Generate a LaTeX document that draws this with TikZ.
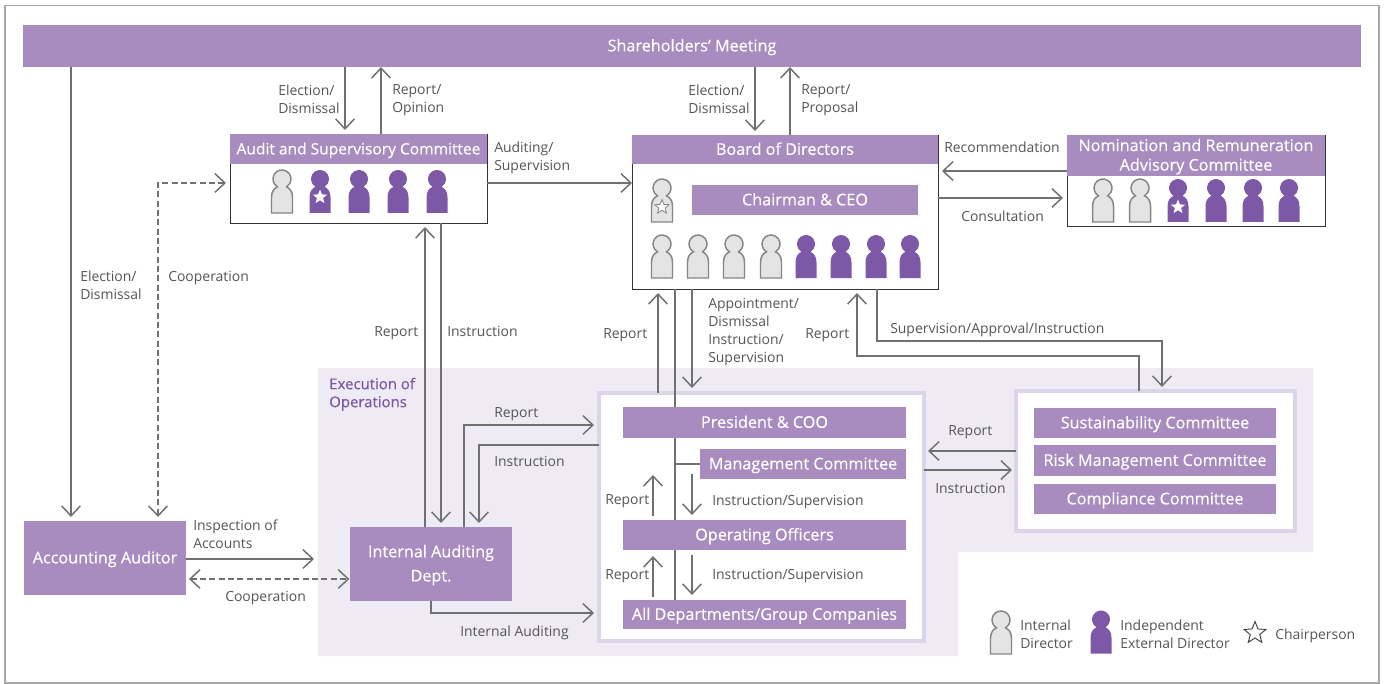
\documentclass[tikz,border=0pt]{standalone}
\usepackage{fontspec}
\setmainfont{Open Sans}
\newfontfamily\semif[FakeBold=0.35]{Open Sans}
\usetikzlibrary{arrows.meta,shapes.geometric,calc}
\definecolor{hdr}{HTML}{A88CC0}
\definecolor{dark}{HTML}{7D58A6}
\definecolor{pale}{HTML}{EEEBF4}
\definecolor{rim}{HTML}{DCD5E9}
\definecolor{ln}{HTML}{707070}
\definecolor{tx}{HTML}{555555}
\definecolor{gry}{HTML}{E4E4E4}
\definecolor{gryl}{HTML}{858585}
\renewcommand{\arraystretch}{1.125}
\tikzset{
  x=0.75pt,y=-0.75pt,
  barhead/.style={fill=hdr,text=white,inner sep=0pt,outer sep=0pt,font=\semif\fontsize{12.15}{13}\selectfont},
  narrowhead/.style={barhead,font=\semif\fontsize{11.65}{13}\selectfont},
  openbox/.style={draw=black!80,line width=0.7pt,fill=white,inner sep=0pt,outer sep=0pt},
  rimbox/.style={draw=rim,line width=3pt,fill=white,inner sep=0pt,outer sep=0pt},
  lbl/.style={text=tx,inner sep=0pt,font=\fontsize{10.45}{13.4}\selectfont,align=left},
  arr/.style={draw=ln,line width=1.1pt,-{Straight Barb[length=7.5pt,width=14pt,line width=1.1pt]}},
  arrb/.style={arr,{Straight Barb[length=7.5pt,width=14pt,line width=1.1pt]}-{Straight Barb[length=7.5pt,width=14pt,line width=1.1pt]}},
  plain/.style={draw=ln,line width=1.1pt},
  dsh/.style={dash pattern=on 4.5pt off 2.5pt},
  gap/.style={shorten >=3pt},
  gapw/.style={shorten >=3.75pt},
  inperson/.style={fill=gry,draw=gryl,line width=1.1pt},
  experson/.style={fill=dark,draw=none},
  staro/.style={star,star points=5,star point ratio=2.3,inner sep=0pt},
}
\newcommand{\bx}[7][barhead]{\node[#1,minimum width={(#5-#3)*0.75pt},minimum height={(#6-#4)*0.75pt},anchor=north west] (#2) at (#3,#4) {\raisebox{-1.1pt}[\height][\depth]{\begin{tabular}{@{}c@{}}#7\end{tabular}}};}
\newcommand{\persona}[3]{\path[#3,shift={(#1,#2)}] (-10.5,43.5) -- (-10.5,28) .. controls (-10.5,22) and (-8,19) .. (-4.5,17.3) arc[start angle=120,end angle=420,radius=9] .. controls (8,19) and (10.5,22) .. (10.5,28) -- (10.5,43.5) -- cycle;}
\begin{document}
\begin{tikzpicture}
\path[use as bounding box,fill=white] (0,0) rectangle (1387,684);
\draw[draw=black!35,line width=0.9pt] (5,5.5) rectangle (1379,683);
% execution background
\fill[pale] (318,368) -- (1313,368) -- (1313,552) -- (958,552) -- (958,656) -- (318,656) -- cycle;
\node[text=dark,inner sep=0pt,anchor=north west,align=left,font=\semif\fontsize{11.2}{13.5}\selectfont] (exec) at (329,377.5) {Execution of\\Operations};
% boxes
\bx{share}{23}{25}{1361}{67}{Shareholders’ Meeting}
\bx[openbox]{audit}{230}{134}{487}{223}{}
\bx[narrowhead]{audith}{230}{134}{487}{164}{Audit and Supervisory Committee}
\bx[openbox]{board}{632}{135}{938}{289}{}
\bx{boardh}{632}{135}{938}{164}{Board of Directors}
\bx{ceo}{692}{185}{918}{215}{Chairman \& CEO}
\bx[openbox]{nom}{1067}{135}{1325}{226}{}
\bx{nomh}{1067}{135}{1325}{176}{Nomination and Remuneration\\Advisory Committee}
\bx{acc}{24}{521}{186}{595}{Accounting Auditor}
\bx{ia}{350}{527}{512}{601}{Internal Auditing\\[3.5pt]Dept.}
\bx[rimbox]{ops}{599}{393}{924}{641}{}
\bx[rimbox]{cmt}{1016}{391}{1295}{531}{}
% lane coordinates
\foreach \n/\v in {a/71,b/158,c/345,d/381,e/425,f/441,g/464,h/479,i/431,j/658,k/675,l/692,m/755,n/790,o/857,p/877,q/1139,r/1162,s/653}{\coordinate (x\n) at (\v,0);}
\foreach \n/\v in {u/183,v/171,w/198,t/425,y/445,z/613,aa/559,ab/579,ac/451,ad/470,ae/356,af/341,ag/464}{\coordinate (y\n) at (0,\v);}
% connectors behind inner bars
\draw[plain] (xk |- board.south) -- (xk |- 0,600);
\draw[plain] (xk |- yag) -- (700,464);
\bx{pres}{623}{407}{906}{438}{President \& COO}
\bx{mgmt}{700}{449}{906}{479}{Management Committee}
\bx{oper}{623}{520}{906}{550}{Operating Officers}
\bx{dept}{623}{600}{906}{629}{All Departments/Group Companies}
\bx{sus}{1034}{408}{1276}{438}{Sustainability Committee}
\bx{risk}{1034}{445}{1276}{476}{Risk Management Committee}
\bx{comp}{1034}{484}{1276}{514}{Compliance Committee}
% arrows
\draw[arr,gap] (xa |- share.south) -- (xa |- acc.north);
\draw[arrb,dsh,gap,shorten <=3pt] (audit.west |- yu) -| (xb |- acc.north);
\draw[arr,gap] (xc |- share.south) -- (xc |- audit.north);
\draw[arr] (xd |- audit.north) -- (xd |- share.south);
\draw[arr,gap] (xm |- share.south) -- (xm |- board.north);
\draw[arr] (xn |- board.north) -- (xn |- share.south);
\draw[arr] (audit.east |- yu) -- (board.west |- yu);
\draw[arr,gap] (nom.west |- yv) -- (board.east |- yv);
\draw[arr,gap] (board.east |- yw) -- (nom.west |- yw);
\draw[arr,gap] (xe |- ia.north) -- (xe |- audit.south);
\draw[arr,gap] (xf |- audit.south) -- (xf |- ia.north);
\draw[arr,gap] (xj |- ops.north) -- (xj |- board.south);
\draw[arr,gapw] (xl |- board.south) -- (xl |- ops.north);
\draw[arr,gap] (xq |- cmt.north) |- (xo |- yae) -- (xo |- board.south);
\draw[arr,gap] (xp |- board.south) |- (xr |- yaf) -- (xr |- cmt.north);
\draw[arr,gapw] (xg |- ia.north) |- (ops.west |- yt);
\draw[arr,gap] (ops.west |- yy) -| (xh |- ia.north);
\draw[arr,gapw] (xi |- ia.south) |- (ops.west |- yz);
\draw[arr] (acc.east |- yaa) -- (314,559);
\draw[arrb,dsh,shorten <=2.2pt,shorten >=0.5pt] (acc.east |- yab) -- (ia.west |- yab);
\draw[arr,gap] (cmt.west |- yac) -- (ops.east |- yac);
\draw[arr,gap] (ops.east |- yad) -- (cmt.west |- yad);
\draw[arr,shorten >=-3pt] (xs |- 0,516) -- (xs |- mgmt.south);
\draw[arr] (xl |- 0,474) -- (xl |- 0,515);
\draw[arr,shorten >=4.5pt] (xs |- 0,597) -- (xs |- oper.south);
\draw[arr] (xl |- oper.south) ++(0,5) -- (xl |- 0,595);
% labels
\node[lbl,anchor=north west] (t1) at (278,84.5) {Election/\\Dismissal};
\node[lbl,anchor=north west] (t2) at (392,84.5) {Report/\\Opinion};
\node[lbl,anchor=north west] (t3) at (688,84.5) {Election/\\Dismissal};
\node[lbl,anchor=north west] (t4) at (801,84.5) {Report/\\Proposal};
\node[lbl,anchor=north west] (t5) at (494,141.5) {Auditing/\\Supervision};
\node[lbl,anchor=north west] (t6) at (944,141.5) {Recommendation};
\node[lbl,anchor=north west] (t7) at (961,210.5) {Consultation};
\node[lbl,anchor=north west] (t8) at (80,270.5) {Election/\\Dismissal};
\node[lbl,anchor=north west] (t9) at (168,271.5) {Cooperation};
\node[lbl,anchor=north west] (t10) at (374,326) {Report};
\node[lbl,anchor=north west] (t11) at (447,326) {Instruction};
\node[lbl,anchor=north west] (t12) at (603,328) {Report};
\node[lbl,anchor=north west] (t13) at (708,298.5) {Appointment/\\Dismissal\\Instruction/\\Supervision};
\node[lbl,anchor=north west] (t14) at (805,328) {Report};
\node[lbl,anchor=north west] (t15) at (890,323) {Supervision/Approval/Instruction};
\node[lbl,anchor=north west] (t16) at (494,407.5) {Report};
\node[lbl,anchor=north west] (t17) at (494,456.5) {Instruction};
\node[lbl,anchor=north west] (t18) at (948,425.5) {Report};
\node[lbl,anchor=north west] (t19) at (935,483.5) {Instruction};
\node[lbl,anchor=north west] (t20) at (605,494.5) {Report};
\node[lbl,anchor=north west] (t21) at (712,495.5) {Instruction/Supervision};
\node[lbl,anchor=north west] (t22) at (605,569.5) {Report};
\node[lbl,anchor=north west] (t23) at (712,569.5) {Instruction/Supervision};
\node[lbl,anchor=north west] (t24) at (193,519.5) {Inspection of\\Accounts};
\node[lbl,anchor=north west] (t25) at (225,591.5) {Cooperation};
\node[lbl,anchor=north west] (t26) at (460,625.5) {Internal Auditing};
\node[lbl,anchor=north west] (t27) at (1020,619.5) {Internal\\Director};
\node[lbl,anchor=north west] (t28) at (1120,619.5) {Independent\\External Director};
\node[lbl,anchor=north west] (t29) at (1275,628.5) {Chairperson};
% persons
\foreach \X in {282}{\persona{\X}{169.5}{inperson}}
\foreach \X in {320,359,398,437}{\persona{\X}{169.5}{experson}}
\node[staro,fill=white,minimum size=15*0.75pt] (s1) at (320,197) {};
\persona{662}{178.5}{inperson}
\node[staro,fill=white,draw=gryl,line width=0.6pt,minimum size=15*0.75pt] (s2) at (662,207) {};
\foreach \X in {662,698,734,771}{\persona{\X}{234.5}{inperson}}
\foreach \X in {806,841,876,910}{\persona{\X}{234.5}{experson}}
\foreach \X in {1103,1140}{\persona{\X}{178.5}{inperson}}
\foreach \X in {1178,1216,1253,1289}{\persona{\X}{178.5}{experson}}
\node[staro,fill=white,minimum size=15*0.75pt] (s3) at (1178,207) {};
\persona{1001}{610.5}{inperson}
\persona{1101}{610}{experson}
\node[staro,draw=black!75,line width=0.7pt,minimum size=23*0.75pt] (s4) at (1255,633) {};
\end{tikzpicture}
\end{document}
